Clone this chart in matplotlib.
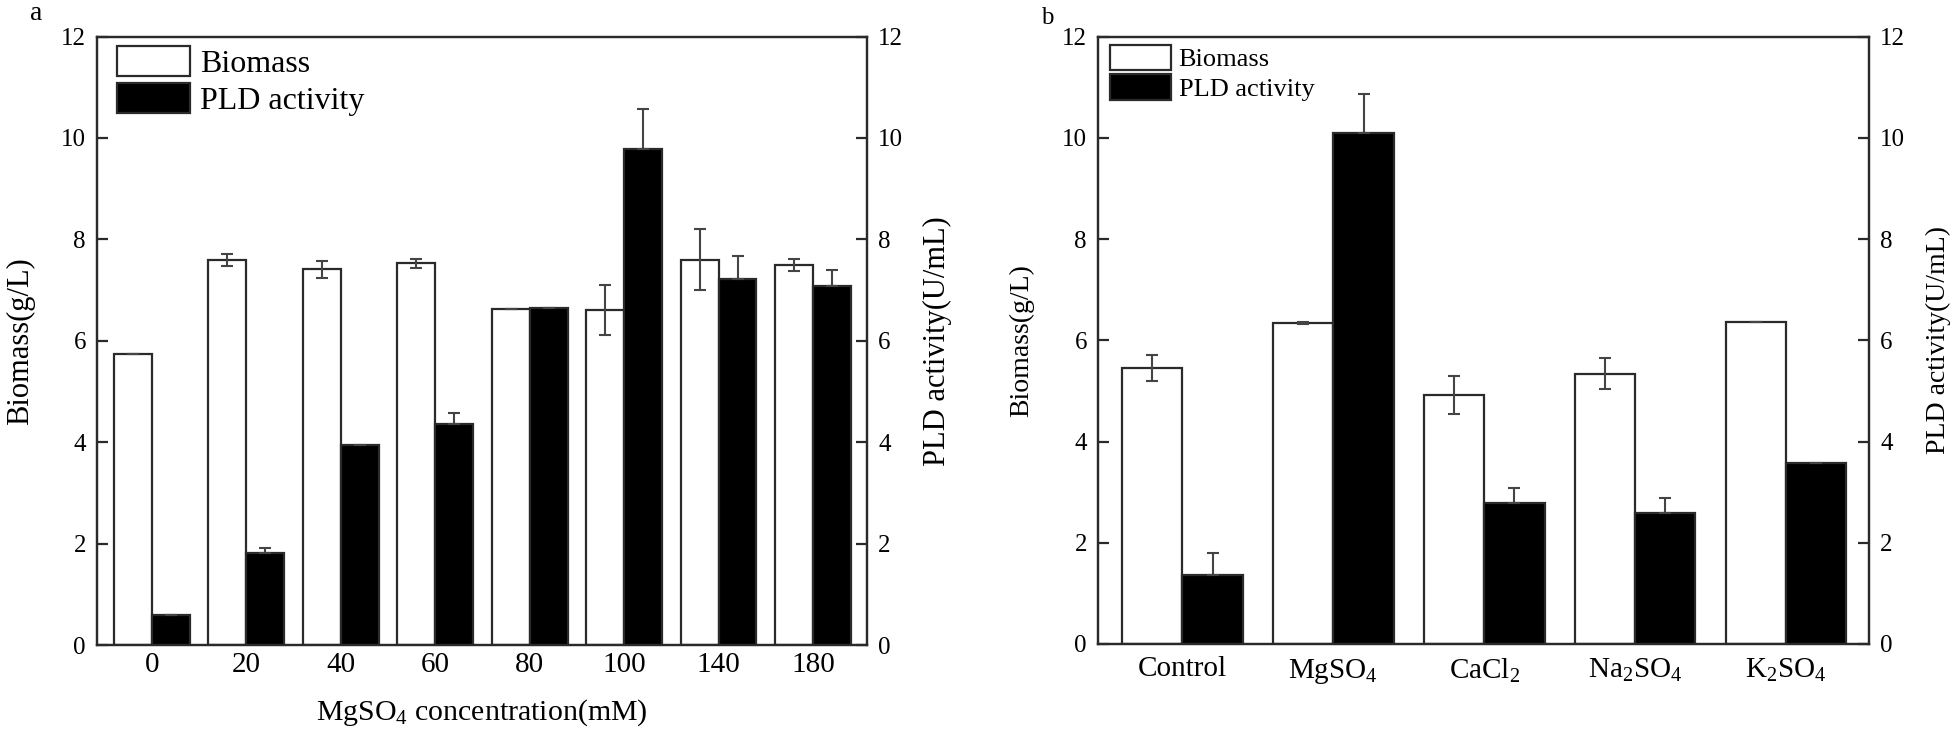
import matplotlib
matplotlib.use("Agg")
import matplotlib.pyplot as plt
import numpy as np
from matplotlib.patches import Patch

# ---------------- data ----------------
conc_labels = ["0", "20", "40", "60", "80", "100", "140", "180"]
biomass_a = [5.73, 7.59, 7.41, 7.53, 6.62, 6.60, 7.60, 7.49]
biomass_a_err = [0.0, 0.12, 0.17, 0.09, 0.0, 0.49, 0.60, 0.12]
pld_a = [0.60, 1.81, 3.94, 4.36, 6.65, 9.79, 7.22, 7.08]
pld_a_err = [0.0, 0.11, 0.0, 0.22, 0.0, 0.78, 0.45, 0.31]

salt_labels = ["Control", "MgSO$_4$", "CaCl$_2$", "Na$_2$SO$_4$", "K$_2$SO$_4$"]
biomass_b = [5.45, 6.34, 4.92, 5.34, 6.37]
biomass_b_err = [0.26, 0.02, 0.38, 0.31, 0.0]
pld_b = [1.36, 10.09, 2.78, 2.59, 3.57]
pld_b_err = [0.44, 0.77, 0.31, 0.30, 0.0]

yticks = [0, 2, 4, 6, 8, 10, 12]

# ---------------- style ----------------
plt.rcParams['font.family'] = ['Liberation Serif', 'DejaVu Serif']
plt.rcParams['mathtext.fontset'] = 'custom'
plt.rcParams['mathtext.rm'] = 'Liberation Serif'
plt.rcParams['mathtext.it'] = 'Liberation Serif:italic'
plt.rcParams['mathtext.bf'] = 'Liberation Serif:bold'

EDGE = '#2a2a2a'
ERR = '#444444'
SPW = 1.6

fig = plt.figure(figsize=(19.6, 7.43), dpi=100)


def make_panel(rect, labels, bio, bio_err, pld, pld_err, xlim,
               lab_fs, xtick_fs, leg_fs, leg_anchor, leg_hl, xpad,
               left_lab_x, right_lab_x, xlabel=None):
    ax = fig.add_axes(rect)
    ax2 = ax.twinx()
    x = np.arange(len(labels))
    w = 0.4
    ax.bar(x - w / 2, bio, width=w, color='white', edgecolor=EDGE,
           linewidth=1.6, zorder=2)
    ax.errorbar(x - w / 2, bio, yerr=bio_err, fmt='none', ecolor=ERR,
                elinewidth=1.5, capsize=4.5, capthick=1.5, zorder=3)
    ax2.bar(x + w / 2, pld, width=w, color='black', edgecolor=EDGE,
            linewidth=1.6, zorder=2)
    ax2.errorbar(x + w / 2, pld, yerr=[np.zeros(len(pld)), pld_err],
                 fmt='none', ecolor=ERR, elinewidth=1.5, capsize=4.5,
                 capthick=1.5, zorder=3)
    for a in (ax, ax2):
        a.set_ylim(0, 12)
        a.set_xlim(*xlim)
        a.set_yticks(yticks)
        for s in a.spines.values():
            s.set_linewidth(SPW)
            s.set_color(EDGE)
    ax.tick_params(axis='y', direction='in', length=8, width=1.6,
                   labelsize=18, pad=8, color=EDGE)
    ax2.tick_params(axis='y', direction='in', length=8, width=1.6,
                    labelsize=18, pad=8, color=EDGE)
    ax.set_xticks(x)
    ax.set_xticklabels(labels, fontsize=xtick_fs)
    ax.tick_params(axis='x', length=0, pad=xpad)
    ax.text(left_lab_x, 0.5, "Biomass(g/L)", transform=ax.transAxes,
            rotation=90, ha='center', va='center', fontsize=lab_fs)
    ax2.text(right_lab_x, 0.5, "PLD activity(U/mL)", transform=ax.transAxes,
             rotation=90, ha='center', va='center', fontsize=lab_fs)
    if xlabel:
        ax.set_xlabel(xlabel, fontsize=21.5, labelpad=14)
    handles = [Patch(facecolor='white', edgecolor=EDGE, linewidth=1.6),
               Patch(facecolor='black', edgecolor=EDGE, linewidth=1.6)]
    ax2.legend(handles, ["Biomass", "PLD activity"], loc='upper left',
               bbox_to_anchor=leg_anchor, frameon=False, fontsize=leg_fs,
               borderpad=0, borderaxespad=0, handlelength=leg_hl,
               handleheight=1.1, labelspacing=0.12, handletextpad=0.3)
    return ax, ax2


make_panel([97 / 1960, 1 - 645 / 743, 770 / 1960, 608.5 / 743],
           conc_labels, biomass_a, biomass_a_err, pld_a, pld_a_err,
           (-0.58, 7.57), lab_fs=22, xtick_fs=21, leg_fs=23,
           leg_anchor=(0.026, 0.985), leg_hl=2.3, xpad=5,
           left_lab_x=-0.099, right_lab_x=1.091,
           xlabel="MgSO$_4$ concentration(mM)")

make_panel([1098 / 1960, 1 - 644 / 743, 771 / 1960, 607.3 / 743],
           salt_labels, biomass_b, biomass_b_err, pld_b, pld_b_err,
           (-0.56, 4.55), lab_fs=20, xtick_fs=21, leg_fs=19,
           leg_anchor=(0.0156, 0.987), leg_hl=2.3, xpad=9,
           left_lab_x=-0.0985, right_lab_x=1.0895)

fig.text(36 / 1960, 1 - 14 / 743, "a", fontsize=20, ha='center', va='center')
fig.text(1047 / 1960, 1 - 18 / 743, "b", fontsize=18, ha='center', va='center')

fig.savefig("out.png", dpi=100, facecolor='white')
